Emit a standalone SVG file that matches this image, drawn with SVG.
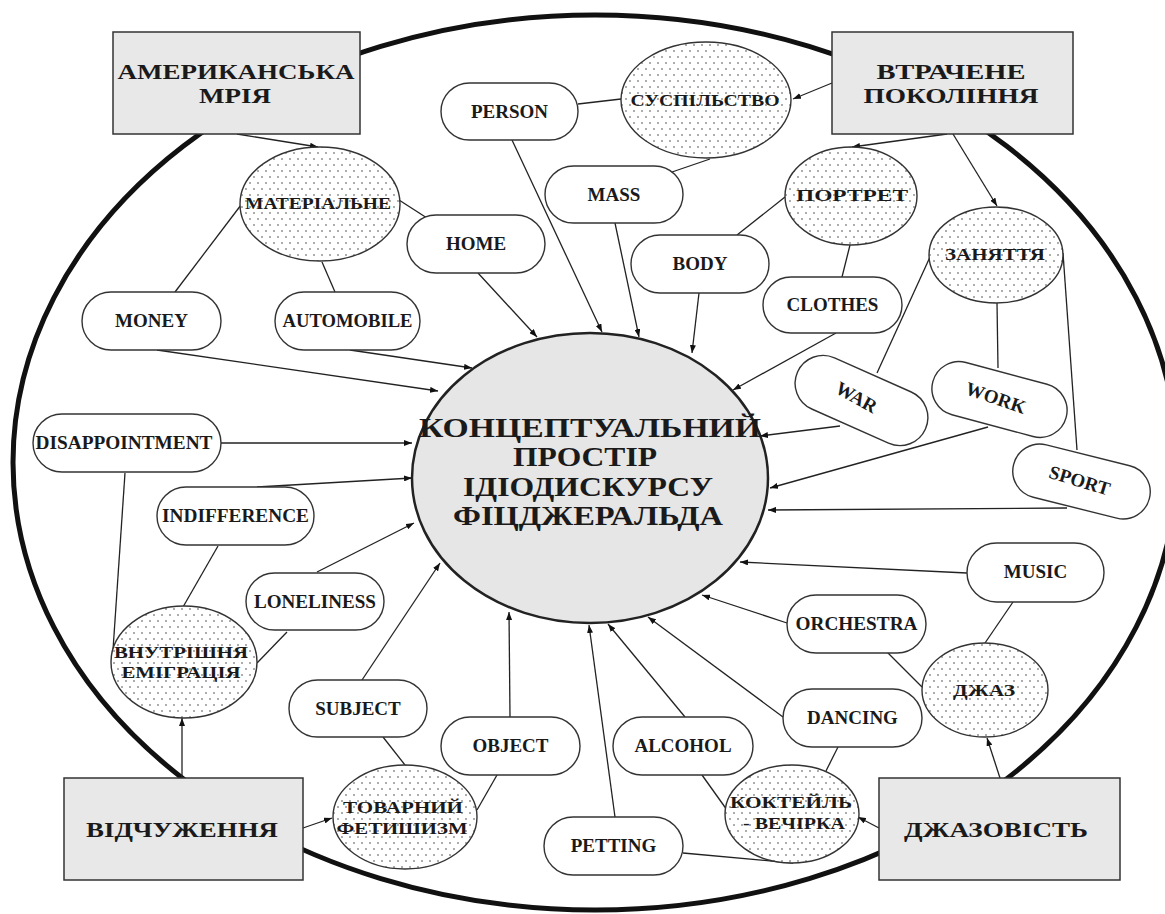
<svg xmlns="http://www.w3.org/2000/svg" width="1165" height="914" viewBox="0 0 1165 914">
<style>
.outer{fill:none;stroke:#111;stroke-width:5}
.box{fill:#e8e8e8;stroke:#333;stroke-width:1.5}
.center{fill:#e6e6e6;stroke:#222;stroke-width:2.5}
.concept{fill:url(#dots);stroke:#333;stroke-width:1.4}
.pill{fill:#fff;stroke:#333;stroke-width:1.4}
.ln{stroke:#222;stroke-width:1.3;fill:none}
.ar{stroke:#222;stroke-width:1.3;fill:none;marker-end:url(#arr)}
text{font-family:"Liberation Serif","Times New Roman",serif;font-weight:bold;fill:#1a1a1a;text-anchor:middle}
.t27{font-size:27px}
.t21{font-size:21px}
.t16{font-size:17.5px}
.t18{font-size:19px}
</style>
<defs>
<pattern id="dots" width="8" height="12" patternUnits="userSpaceOnUse">
<rect width="8" height="12" fill="#fff"/>
<circle cx="2" cy="3" r="0.8" fill="#444"/>
<circle cx="6" cy="9" r="0.8" fill="#444"/>
</pattern>
<marker id="arr" markerWidth="8" markerHeight="6" refX="8" refY="3" orient="auto" markerUnits="userSpaceOnUse">
<path d="M0,0 L8,3 L0,6 z" fill="#111"/>
</marker>
</defs>
<rect width="1165" height="914" fill="#fff"/>
<ellipse class="outer" cx="595" cy="462.5" rx="582" ry="447.5"/>
<g id="center">
<ellipse class="center" cx="590" cy="478" rx="178" ry="145"/>
<text class="t27" x="590" y="437" textLength="342" lengthAdjust="spacingAndGlyphs">КОНЦЕПТУАЛЬНИЙ</text>
<text class="t27" x="585" y="466" textLength="144" lengthAdjust="spacingAndGlyphs">ПРОСТІР</text>
<text class="t27" x="588" y="496" textLength="250" lengthAdjust="spacingAndGlyphs">ІДІОДИСКУРСУ</text>
<text class="t27" x="588" y="525" textLength="270" lengthAdjust="spacingAndGlyphs">ФІЦДЖЕРАЛЬДА</text>
</g>
<g id="connectors">
<line class="ar" x1="237" y1="134" x2="318" y2="147"/>
<line class="ar" x1="832" y1="83" x2="793" y2="99"/>
<line class="ar" x1="947" y1="134" x2="852" y2="147"/>
<line class="ar" x1="953" y1="134" x2="997" y2="206"/>
<line class="ar" x1="512" y1="140" x2="602" y2="332"/>
<line class="ar" x1="615" y1="223" x2="639" y2="337"/>
<line class="ar" x1="478" y1="273" x2="537" y2="337"/>
<line class="ar" x1="699" y1="293" x2="692" y2="353"/>
<line class="ar" x1="836" y1="333" x2="733" y2="390"/>
<line class="ar" x1="350" y1="350" x2="472" y2="368"/>
<line class="ar" x1="157" y1="350" x2="438" y2="391"/>
<line class="ar" x1="221" y1="443" x2="412" y2="443"/>
<line class="ar" x1="257" y1="487" x2="412" y2="478"/>
<line class="ar" x1="317" y1="572" x2="414" y2="523"/>
<line class="ar" x1="362" y1="680" x2="440" y2="563"/>
<line class="ar" x1="510" y1="717" x2="509" y2="612"/>
<line class="ar" x1="615" y1="817" x2="589" y2="625"/>
<line class="ar" x1="685" y1="717" x2="608" y2="624"/>
<line class="ar" x1="783" y1="717" x2="648" y2="617"/>
<line class="ar" x1="787" y1="623" x2="702" y2="595"/>
<line class="ar" x1="967" y1="573" x2="740" y2="562"/>
<line class="ar" x1="1067" y1="508" x2="768" y2="510"/>
<line class="ar" x1="988" y1="427" x2="770" y2="488"/>
<line class="ar" x1="840" y1="426" x2="760" y2="436"/>
<line class="ar" x1="182" y1="778" x2="182" y2="718"/>
<line class="ar" x1="303" y1="828" x2="332" y2="818"/>
<line class="ar" x1="879" y1="828" x2="858" y2="817"/>
<line class="ar" x1="1000" y1="778" x2="987" y2="738"/>
<line class="ln" x1="241" y1="205" x2="175" y2="292"/>
<line class="ln" x1="322" y1="262" x2="335" y2="292"/>
<line class="ln" x1="399" y1="200" x2="427" y2="218"/>
<line class="ln" x1="578" y1="104" x2="621" y2="99"/>
<line class="ln" x1="710" y1="159" x2="672" y2="172"/>
<line class="ln" x1="785" y1="197" x2="737" y2="235"/>
<line class="ln" x1="850" y1="245" x2="842" y2="277"/>
<line class="ln" x1="930" y1="257" x2="877" y2="373"/>
<line class="ln" x1="997" y1="303" x2="998" y2="368"/>
<line class="ln" x1="1063" y1="253" x2="1077" y2="450"/>
<line class="ln" x1="125" y1="473" x2="113" y2="650"/>
<line class="ln" x1="218" y1="546" x2="183" y2="607"/>
<line class="ln" x1="287" y1="632" x2="257" y2="663"/>
<line class="ln" x1="383" y1="737" x2="405" y2="765"/>
<line class="ln" x1="497" y1="775" x2="477" y2="810"/>
<line class="ln" x1="702" y1="775" x2="727" y2="810"/>
<line class="ln" x1="683" y1="853" x2="793" y2="863"/>
<line class="ln" x1="838" y1="747" x2="825" y2="773"/>
<line class="ln" x1="887" y1="652" x2="922" y2="687"/>
<line class="ln" x1="1013" y1="602" x2="985" y2="643"/>
</g>
<g id="american-dream">
<rect class="box" x="113" y="32" width="247" height="102"/>
<text class="t21" x="236" y="79" textLength="237" lengthAdjust="spacingAndGlyphs">АМЕРИКАНСЬКА</text>
<text class="t21" x="235" y="103" textLength="72" lengthAdjust="spacingAndGlyphs">МРІЯ</text>
</g>
<g id="lost-generation">
<rect class="box" x="832" y="32" width="241" height="102"/>
<text class="t21" x="951" y="79" textLength="149" lengthAdjust="spacingAndGlyphs">ВТРАЧЕНЕ</text>
<text class="t21" x="951" y="103" textLength="175" lengthAdjust="spacingAndGlyphs">ПОКОЛІННЯ</text>
</g>
<g id="alienation">
<rect class="box" x="64" y="778" width="239" height="102"/>
<text class="t21" x="182" y="837" textLength="192" lengthAdjust="spacingAndGlyphs">ВІДЧУЖЕННЯ</text>
</g>
<g id="jazziness">
<rect class="box" x="879" y="778" width="241" height="102"/>
<text class="t21" x="996" y="837" textLength="184" lengthAdjust="spacingAndGlyphs">ДЖАЗОВІСТЬ</text>
</g>
<g id="material">
<ellipse class="concept" cx="320" cy="204" rx="80" ry="57"/>
<text class="t16" x="318" y="209" textLength="146" lengthAdjust="spacingAndGlyphs">МАТЕРІАЛЬНЕ</text>
</g>
<g id="society">
<ellipse class="concept" cx="706" cy="100" rx="85" ry="58"/>
<text class="t16" x="705" y="106" textLength="149" lengthAdjust="spacingAndGlyphs">СУСПІЛЬСТВО</text>
</g>
<g id="portrait">
<ellipse class="concept" cx="851" cy="196" rx="66" ry="49"/>
<text class="t16" x="852" y="201" textLength="112" lengthAdjust="spacingAndGlyphs">ПОРТРЕТ</text>
</g>
<g id="occupation">
<ellipse class="concept" cx="996" cy="255" rx="67" ry="48"/>
<text class="t16" x="995" y="260" textLength="100" lengthAdjust="spacingAndGlyphs">ЗАНЯТТЯ</text>
</g>
<g id="inner-emigration">
<ellipse class="concept" cx="184" cy="662" rx="73" ry="56"/>
<text class="t16" x="181" y="658" textLength="134" lengthAdjust="spacingAndGlyphs">ВНУТРІШНЯ</text>
<text class="t16" x="181" y="678" textLength="119" lengthAdjust="spacingAndGlyphs">ЕМІГРАЦІЯ</text>
</g>
<g id="commodity-fetishism">
<ellipse class="concept" cx="405" cy="817" rx="72" ry="52"/>
<text class="t16" x="403" y="813" textLength="120" lengthAdjust="spacingAndGlyphs">ТОВАРНИЙ</text>
<text class="t16" x="402" y="834" textLength="131" lengthAdjust="spacingAndGlyphs">ФЕТИШИЗМ</text>
</g>
<g id="cocktail-party">
<ellipse class="concept" cx="792" cy="814" rx="67" ry="49"/>
<text class="t16" x="791" y="808" textLength="122" lengthAdjust="spacingAndGlyphs">КОКТЕЙЛЬ</text>
<text class="t16" x="794" y="829" textLength="102" lengthAdjust="spacingAndGlyphs">- ВЕЧІРКА</text>
</g>
<g id="jazz">
<ellipse class="concept" cx="985" cy="690" rx="63" ry="47"/>
<text class="t16" x="984" y="696" textLength="62" lengthAdjust="spacingAndGlyphs">ДЖАЗ</text>
</g>
<g id="person"><rect class="pill" x="441" y="83" width="137" height="57" rx="28.5"/><text class="t18" x="509.5" y="118">PERSON</text></g>
<g id="mass"><rect class="pill" x="545" y="166" width="138" height="57" rx="28.5"/><text class="t18" x="614" y="201">MASS</text></g>
<g id="home"><rect class="pill" x="407" y="215" width="138" height="58" rx="29"/><text class="t18" x="476" y="250">HOME</text></g>
<g id="body"><rect class="pill" x="631" y="235" width="138" height="58" rx="29"/><text class="t18" x="700" y="270">BODY</text></g>
<g id="clothes"><rect class="pill" x="763" y="277" width="139" height="56" rx="28"/><text class="t18" x="832.5" y="311">CLOTHES</text></g>
<g id="money"><rect class="pill" x="82" y="292" width="139" height="58" rx="29"/><text class="t18" x="151.5" y="327">MONEY</text></g>
<g id="automobile"><rect class="pill" x="275" y="292" width="145" height="58" rx="29"/><text class="t18" x="347.5" y="327" textLength="130" lengthAdjust="spacingAndGlyphs">AUTOMOBILE</text></g>
<g id="disappointment"><rect class="pill" x="33" y="414" width="188" height="58" rx="29"/><text class="t18" x="124" y="449" textLength="177" lengthAdjust="spacingAndGlyphs">DISAPPOINTMENT</text></g>
<g id="indifference"><rect class="pill" x="157" y="487" width="157" height="58" rx="29"/><text class="t18" x="235.5" y="522" textLength="147" lengthAdjust="spacingAndGlyphs">INDIFFERENCE</text></g>
<g id="loneliness"><rect class="pill" x="246" y="573" width="138" height="57" rx="28.5"/><text class="t18" x="315" y="608" textLength="122" lengthAdjust="spacingAndGlyphs">LONELINESS</text></g>
<g id="subject"><rect class="pill" x="289" y="680" width="138" height="57" rx="28.5"/><text class="t18" x="358" y="715">SUBJECT</text></g>
<g id="object"><rect class="pill" x="441" y="717" width="139" height="58" rx="29"/><text class="t18" x="510.5" y="752">OBJECT</text></g>
<g id="alcohol"><rect class="pill" x="613" y="717" width="140" height="58" rx="29"/><text class="t18" x="683" y="752">ALCOHOL</text></g>
<g id="petting"><rect class="pill" x="544" y="817" width="139" height="58" rx="29"/><text class="t18" x="613.5" y="852">PETTING</text></g>
<g id="dancing"><rect class="pill" x="783" y="689" width="139" height="58" rx="29"/><text class="t18" x="852.5" y="724">DANCING</text></g>
<g id="orchestra"><rect class="pill" x="787" y="595" width="139" height="58" rx="29"/><text class="t18" x="856.5" y="630" textLength="122" lengthAdjust="spacingAndGlyphs">ORCHESTRA</text></g>
<g id="music"><rect class="pill" x="967" y="543" width="137" height="59" rx="29.5"/><text class="t18" x="1035.5" y="578">MUSIC</text></g>
<g id="war" transform="translate(861.5 400.5) rotate(24)"><rect class="pill" x="-70" y="-28" width="140" height="56" rx="28"/><text class="t18" x="-6" y="6" transform="rotate(5)">WAR</text></g>
<g id="work" transform="translate(999.5 399.5) rotate(15)"><rect class="pill" x="-69" y="-27" width="138" height="54" rx="27"/><text class="t18" x="-4" y="6" transform="rotate(4)">WORK</text></g>
<g id="sport" transform="translate(1081.5 481.5) rotate(14)"><rect class="pill" x="-70" y="-27" width="140" height="54" rx="27"/><text class="t18" x="-2" y="6" transform="rotate(3)">SPORT</text></g>
</svg>
